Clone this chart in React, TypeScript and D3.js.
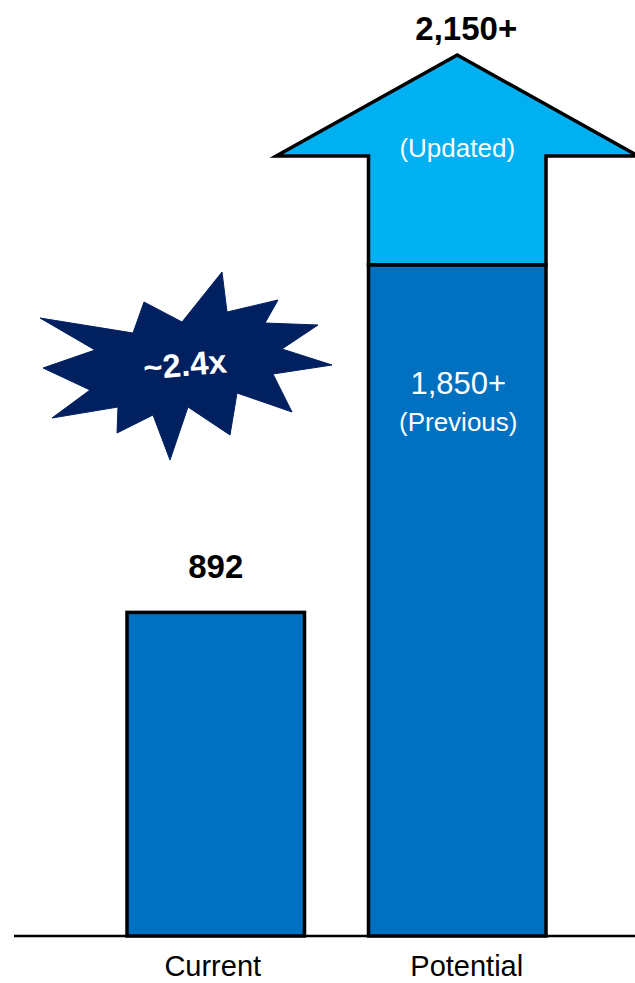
import React from "react";
import * as d3 from "d3";

// ---- data ----
const categories = ["Current", "Potential"];
const currentValue = [892];
const previousValue = [1850];
const updatedValue = [2150];
const valueLabels = ["892", "2,150+"];
const previousLabel = ["1,850+", "(Previous)"];
const updatedLabel = ["(Updated)"];
const multipleLabel = ["~2.4x"];

const W = 635;
const H = 983;
const FONT = "'Liberation Sans', Arial, Helvetica, sans-serif";

// decorative starburst outline, offsets from its centre
const starShape: [number, number][] = [
  [-145, -47], [-52, -32], [-41, -63], [-3, -43], [37, -93], [42, -53],
  [93, -65], [80, -42], [133, -40], [97, -16], [147, 0], [88, 9],
  [107, 47], [52, 28], [45, 70], [3, 42], [-15, 95], [-32, 50],
  [-68, 68], [-67, 42], [-133, 53], [-95, 25], [-142, 3], [-90, -15],
];

export default function App() {
  const x = d3
    .scaleBand<string>()
    .domain(categories)
    .range([127, 546])
    .paddingInner(0.265)
    .paddingOuter(0);
  const y = d3.scaleLinear().domain([0, 2150]).range([936, 156]);

  const bw = x.bandwidth();
  const xc = x("Current")!;
  const xp = x("Potential")!;
  const pc = xp + bw / 2;
  const cc = xc + bw / 2;

  const headHalf = 181;
  const headH = 101;
  const yUpd = y(updatedValue[0]);
  const yPrev = y(previousValue[0]);
  const arrowPath = d3.path();
  arrowPath.moveTo(pc, yUpd - headH);
  arrowPath.lineTo(pc + headHalf, yUpd);
  arrowPath.lineTo(xp + bw, yUpd);
  arrowPath.lineTo(xp + bw, yPrev);
  arrowPath.lineTo(xp, yPrev);
  arrowPath.lineTo(xp, yUpd);
  arrowPath.lineTo(pc - headHalf, yUpd);
  arrowPath.closePath();

  const starC: [number, number] = [185, 365];
  const starLine = d3.line()(starShape.map(([dx, dy]) => [starC[0] + dx, starC[1] + dy])) + "Z";

  const labelDx = [-3, 9.5];

  return (
    <svg
      width={W}
      height={H}
      style={{ position: "absolute", left: 0, top: 0, background: "#fff" }}
      fontFamily={FONT}
    >
      {/* baseline */}
      <line x1={14} x2={W} y1={y(0)} y2={y(0)} stroke="#000" strokeWidth={2.5} />

      {/* current bar */}
      <rect
        x={xc}
        y={y(currentValue[0])}
        width={bw}
        height={y(0) - y(currentValue[0])}
        fill="#0070C0"
        stroke="#000"
        strokeWidth={3.5}
      />

      {/* potential: previous bar */}
      <rect
        x={xp}
        y={yPrev}
        width={bw}
        height={y(0) - yPrev}
        fill="#0070C0"
        stroke="#000"
        strokeWidth={3.5}
      />
      {/* potential: updated arrow */}
      <path
        d={arrowPath.toString()}
        fill="#00B0F0"
        stroke="#000"
        strokeWidth={3.5}
        strokeLinejoin="miter"
      />

      {/* value labels */}
      <text x={cc} y={578} textAnchor="middle" fontSize={33} fontWeight="bold" fill="#000">
        {valueLabels[0]}
      </text>
      <text x={pc + 9} y={40} textAnchor="middle" fontSize={33} fontWeight="bold" fill="#000">
        {valueLabels[1]}
      </text>

      <text x={pc} y={157} textAnchor="middle" fontSize={26} fill="#fff">
        {updatedLabel[0]}
      </text>
      <text x={pc + 1} y={394} textAnchor="middle" fontSize={31} fill="#fff">
        {previousLabel[0]}
      </text>
      <text x={pc + 1} y={431} textAnchor="middle" fontSize={26} fill="#fff">
        {previousLabel[1]}
      </text>

      {/* starburst */}
      <path d={starLine} fill="#002060" stroke="#002060" strokeWidth={1} strokeLinejoin="round" />
      <text
        x={starC[0]}
        y={starC[1] + 11}
        textAnchor="middle"
        fontSize={33}
        fontWeight="bold"
        fill="#fff"
        transform={`rotate(-5 ${starC[0]} ${starC[1]})`}
      >
        {multipleLabel[0]}
      </text>

      {/* category labels */}
      {categories.map((c, i) => (
        <text
          key={c}
          x={x(c)! + bw / 2 + labelDx[i]}
          y={976}
          textAnchor="middle"
          fontSize={29}
          fill="#000"
        >
          {c}
        </text>
      ))}
    </svg>
  );
}
